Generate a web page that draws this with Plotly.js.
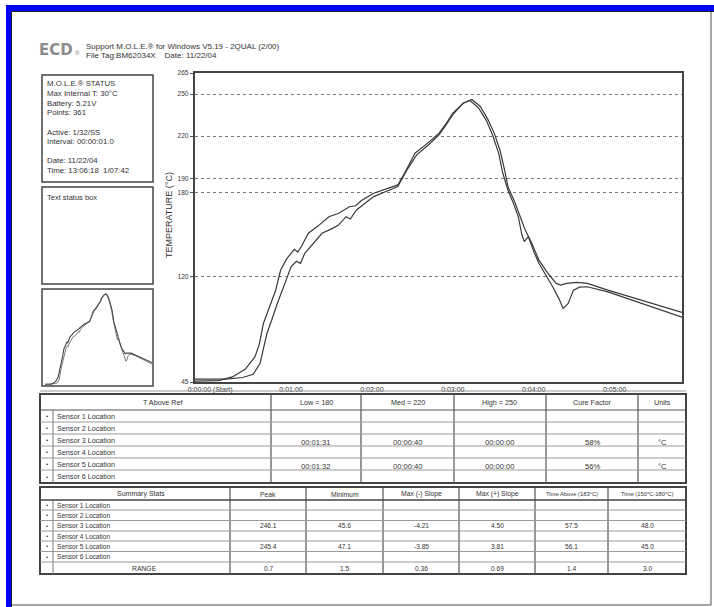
<!DOCTYPE html>
<html>
<head>
<meta charset="utf-8">
<script src="https://cdn.plot.ly/plotly-3.0.1.min.js"></script>
<style>
  html, body { margin: 0; padding: 0; background: #fff; }
  #chart { width: 714px; height: 607px; }
</style>
</head>
<body>
<div id="chart"></div>
<script>
// Reflow profile: elapsed seconds vs. temperature (°C) for two probes
const timeA = [-11.6, -2, 6.3, 16.5, 26, 33.2, 36.5, 39.5, 44.7, 48.5, 52.3, 57, 62.5, 65, 68, 72.8, 80, 88.1, 95, 103.4, 108, 112, 121.3, 130, 139.2, 145, 151.9, 160, 169.8, 175, 180.0, 187.7, 194.1, 200.4, 206, 210.7, 215, 218.4, 220.9, 226, 230, 233.7, 238, 243.9, 250, 256.7, 260, 264.3, 272, 279.7, 295.0, 320.6, 350];
const tempA = [45.6, 45.6, 46.0, 48.6, 54, 62.9, 72, 86.7, 100.9, 110, 124.7, 133, 139.5, 137.5, 142, 150.9, 156, 162.7, 165, 169.8, 170.5, 174, 179.4, 182, 185.3, 195, 207.9, 214, 222.2, 229, 236.5, 243.5, 246.1, 241.2, 232, 222.2, 210, 196.0, 184.1, 173, 163, 153.2, 145, 131.8, 123, 115.2, 114, 115.2, 116, 115.2, 110.4, 103.3, 94.6];

const timeB = [-11.6, 11.4, 24.2, 31.9, 37.0, 42.1, 46, 49.8, 55, 60.0, 64, 67, 70.2, 76, 83.0, 90, 95, 100.9, 104, 108.5, 115, 121.3, 130, 139.2, 146, 153.2, 161, 169.8, 175, 180.0, 187.7, 192.8, 199.2, 205, 209.4, 214, 217.1, 220.9, 225, 228.6, 231.2, 233, 236, 240, 243.9, 249, 254.1, 259.2, 261.8, 265.6, 269.5, 274, 279.7, 295.0, 320.6, 350];
const tempB = [47.1, 47.1, 48.2, 50.5, 58.1, 79.5, 90, 100.9, 114, 127.0, 131, 129.5, 136.6, 143, 150.9, 154, 156.5, 162.7, 161, 167.5, 172, 177.0, 180.5, 184.1, 196, 206.7, 213, 221.0, 228, 235.3, 243.5, 245.4, 240.0, 231, 221.0, 208, 193.6, 181.7, 172, 162.7, 150, 145, 148.5, 138, 129.4, 121, 112.8, 103.3, 97.3, 100.9, 110.4, 112.5, 112.8, 109.2, 100.9, 91.2];

// Axis ticks
const tempTicks = [45, 120, 180, 190, 220, 250, 265];
const timeTicks = [0, 60, 120, 180, 240, 300];
const timeLabels = ['0:00:00 (Start)', '0:01:00', '0:02:00', '0:03:00', '0:04:00', '0:05:00'];

// Header and status panel text
const headerLines = ['Support M.O.L.E.® for Windows V5.19 - 2QUAL (2/00)', 'File Tag:BM62034X    Date: 11/22/04'];
const statusLines = ['M.O.L.E.® STATUS', 'Max Internal T: 30°C', 'Battery: 5.21V', 'Points: 361', '', 'Active: 1/32/SS', 'Interval: 00:00:01.0', '', 'Date: 11/22/04', 'Time: 13:06:18  1/07:42'];

// Threshold table
const sensorNames = ['Sensor 1 Location', 'Sensor 2 Location', 'Sensor 3 Location', 'Sensor 4 Location', 'Sensor 5 Location', 'Sensor 6 Location'];
const threshHeaders = ['T Above Ref', 'Low = 180', 'Med = 220', 'High = 250', 'Cure Factor', 'Units'];
const threshRow3 = ['00:01:31', '00:00:40', '00:00:00', '58%', '°C'];
const threshRow5 = ['00:01:32', '00:00:40', '00:00:00', '56%', '°C'];

// Summary table
const summaryHeaders = ['Summary Stats', 'Peak', 'Minimum', 'Max (-) Slope', 'Max (+) Slope', 'Time Above (183°C)', 'Time (150°C-180°C)'];
const negSlope = [-4.21, -3.85];
const posSlope = [4.50, 3.81];
const timeAbove = [57.5, 56.1];
const timeBetween = [48.0, 45.0];

const W = 714, H = 607;
const X = px => px / W;
const Y = py => 1 - py / H;
const FONT = 'Liberation Sans, Arial, sans-serif';
const INK = '#333';

const shapes = [];
const annotations = [];

function rect(x0, y0, x1, y1, opts) {
  opts = opts || {};
  shapes.push({type: 'rect', xref: 'paper', yref: 'paper', x0: X(x0), x1: X(x1), y0: Y(y1), y1: Y(y0),
    line: {color: opts.color || '#444', width: opts.width === undefined ? 1.5 : opts.width},
    fillcolor: opts.fill || 'rgba(0,0,0,0)', layer: opts.layer || 'above'});
}
function line(x0, y0, x1, y1, color, width) {
  shapes.push({type: 'line', xref: 'paper', yref: 'paper', x0: X(x0), x1: X(x1), y0: Y(y0), y1: Y(y1),
    line: {color: color || '#555', width: width || 1}});
}
function text(t, x, y, size, anchor, opts) {
  opts = opts || {};
  annotations.push({text: t, xref: 'paper', yref: 'paper', x: X(x), y: Y(y), showarrow: false,
    xanchor: anchor || 'center', yanchor: 'middle', borderpad: 0,
    textangle: opts.angle || 0,
    font: {family: opts.family || FONT, size: size, color: opts.color || INK}});
}

// Page frame
rect(6, 5, 11, 607, {fill: '#0000ff', width: 0});
rect(6, 5, 714, 11, {fill: '#0000ff', width: 0});
line(11.5, 11.5, 714, 11.5, '#222', 1);
line(11.5, 11.5, 11.5, 607, '#222', 1);
line(711, 12, 711, 605, '#888', 1.5);
line(12, 605, 711, 605, '#888', 1.5);

// Header
text('<b>ECD</b>', 38, 50, 15, 'left', {family: 'DejaVu Sans, sans-serif', color: '#8c8c8c'});
text('®', 74, 53, 6, 'left', {color: '#777'});
text(headerLines[0], 85, 46, 8, 'left');
text(headerLines[1], 85, 55.5, 8, 'left');

// Status panels
rect(42, 75, 153, 182);
statusLines.forEach((s, i) => { if (s) text(s, 46, 84 + i * 9.6, 7.8, 'left'); });
rect(42, 187, 153, 284);
text('Text status box', 46, 197, 7.5, 'left');
rect(42, 289, 153, 386);

// Threshold table
const tCols = [40, 53, 271, 361, 454, 546, 638, 686];
const tRows = [394, 410, 422, 434, 446, 458, 470, 483];
line(40, 391, 686, 391, '#999', 1);
rect(40, 394, 686, 483, {width: 2});
tCols.slice(2, 7).forEach(c => line(c, 394, c, 483, '#555', 1.2));
line(53, 410, 53, 483, '#777', 1);
tRows.slice(1, 7).forEach((r, i) => line(40, r, 686, r, i === 0 ? '#555' : '#9a9a9a', 1));
text(threshHeaders[0], 162, 402, 7.2);
for (let c = 1; c < 6; c++) text(threshHeaders[c], (tCols[c + 1] + tCols[c + 2]) / 2, 402, 7.2);
sensorNames.forEach((s, i) => {
  const cy = (tRows[i + 1] + tRows[i + 2]) / 2;
  text('•', 47, cy, 6, 'center');
  text(s, 56, cy, 7.2, 'left');
});
[[threshRow3, 2], [threshRow5, 4]].forEach(([row, i]) => {
  const cy = (tRows[i + 1] + tRows[i + 2]) / 2 + 2;
  row.forEach((v, c) => text(v, (tCols[c + 2] + tCols[c + 3]) / 2, cy, 7.6));
});

// Summary table
const sCols = [40, 53, 230, 306, 383, 459, 535, 608, 686];
const sRows = [487, 500, 510, 520.5, 531, 541, 551.5, 562, 574];
rect(40, 487, 686, 574, {width: 2});
sCols.slice(2, 8).forEach(c => line(c, 487, c, 574, '#555', 1.2));
line(53, 500, 53, 574, '#777', 1);
sRows.slice(1, 8).forEach((r, i) => line(40, r, 686, r, i === 0 ? '#444' : '#9a9a9a', i === 0 ? 1.5 : 1));
text(summaryHeaders[0], 141, 494, 7);
for (let c = 1; c < 7; c++) text(summaryHeaders[c], (sCols[c + 1] + sCols[c + 2]) / 2, 494, c >= 5 ? 5.8 : 6.8);
sensorNames.forEach((s, i) => {
  const cy = (sRows[i + 1] + sRows[i + 2]) / 2;
  text('•', 47, cy, 6, 'center');
  text(s, 56, cy, 6.6, 'left');
});
const peakA = Math.max(...tempA), peakB = Math.max(...tempB);
const minA = Math.min(...tempA), minB = Math.min(...tempB);
const statsA = [peakA.toFixed(1), minA.toFixed(1), negSlope[0].toFixed(2), posSlope[0].toFixed(2), timeAbove[0].toFixed(1), timeBetween[0].toFixed(1)];
const statsB = [peakB.toFixed(1), minB.toFixed(1), negSlope[1].toFixed(2), posSlope[1].toFixed(2), timeAbove[1].toFixed(1), timeBetween[1].toFixed(1)];
const statsRange = [Math.abs(peakA - peakB).toFixed(1), Math.abs(minA - minB).toFixed(1),
  Math.abs(negSlope[0] - negSlope[1]).toFixed(2), Math.abs(posSlope[0] - posSlope[1]).toFixed(2),
  Math.abs(timeAbove[0] - timeAbove[1]).toFixed(1), Math.abs(timeBetween[0] - timeBetween[1]).toFixed(1)];
[[statsA, 2], [statsB, 4], [statsRange, 6]].forEach(([row, i]) => {
  const cy = (sRows[i + 1] + sRows[i + 2]) / 2;
  row.forEach((v, c) => text(v, (sCols[c + 2] + sCols[c + 3]) / 2, cy, 6.6));
});
text('RANGE', 144, (sRows[7] + sRows[8]) / 2, 6.8);

// Axis title
text('TEMPERATURE (°C)', 169, 215, 9, 'center', {angle: -90});

const lineStyle = {color: '#3a3a3a', width: 1.2};
const data = [
  {x: timeA, y: tempA, type: 'scatter', mode: 'lines', line: lineStyle, xaxis: 'x', yaxis: 'y'},
  {x: timeB, y: tempB, type: 'scatter', mode: 'lines', line: lineStyle, xaxis: 'x', yaxis: 'y'},
  {x: timeA, y: tempA, type: 'scatter', mode: 'lines', line: {color: '#444', width: 1.1}, xaxis: 'x2', yaxis: 'y2'},
  {x: timeB, y: tempB, type: 'scatter', mode: 'lines', line: {color: '#555', width: 0.8}, xaxis: 'x2', yaxis: 'y2'}
];

const layout = {
  width: W, height: H,
  margin: {l: 0, r: 0, t: 0, b: 0},
  paper_bgcolor: '#fff', plot_bgcolor: '#fff',
  showlegend: false,
  font: {family: FONT, color: INK, size: 6},
  xaxis: {
    domain: [X(194.5), X(682)], range: [-11.6, 350],
    tickvals: timeTicks, ticktext: timeLabels, ticks: '',
    showgrid: false, zeroline: false,
    showline: true, mirror: true, linecolor: '#444', linewidth: 1.8,
    tickfont: {size: 7, color: INK}, ticklabelstandoff: 0
  },
  yaxis: {
    domain: [Y(382), Y(73)], range: [45, 265],
    tickvals: tempTicks, ticks: 'outside', ticklen: 3, tickcolor: '#555',
    showgrid: true, gridcolor: '#777', griddash: 'dot', gridwidth: 1,
    zeroline: false,
    showline: true, mirror: true, linecolor: '#444', linewidth: 1.8,
    tickfont: {size: 6.5, color: INK}
  },
  xaxis2: {domain: [X(45), X(152)], range: [-11.6, 350], visible: false, anchor: 'y2'},
  yaxis2: {domain: [Y(385), Y(292)], range: [45, 250], visible: false, anchor: 'x2'},
  shapes: shapes,
  annotations: annotations
};

Plotly.newPlot('chart', data, layout, {staticPlot: true, displayModeBar: false});
</script>
</body>
</html>
